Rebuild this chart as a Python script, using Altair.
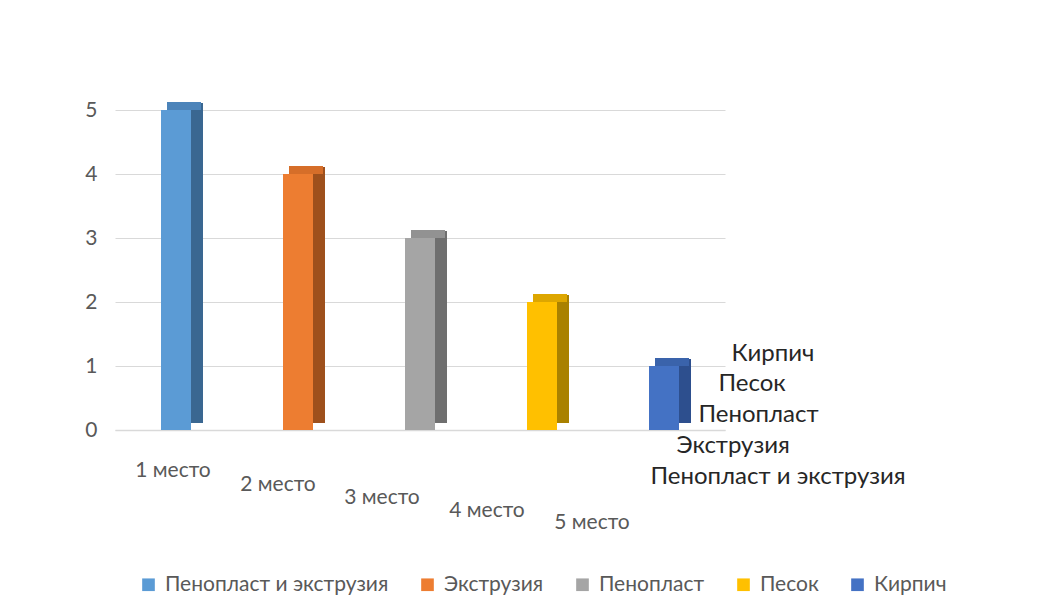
import altair as alt
import pandas as pd

# Ranking of insulation materials by place
places = ["1 место", "2 место", "3 место", "4 место", "5 место"]
materials = ["Пенопласт и экструзия", "Экструзия", "Пенопласт", "Песок", "Кирпич"]
scores = [5, 4, 3, 2, 1]

# Face colours of each column: front, top and side
front_palette = ["#5B9BD5", "#ED7D31", "#A5A5A5", "#FFC000", "#4472C4"]
top_palette = ["#4C84BA", "#D66E29", "#929292", "#DDA600", "#3A63AB"]
side_palette = ["#3A6791", "#9E501C", "#6F6F6F", "#A98100", "#2D4F8E"]

df = pd.DataFrame({"place": places, "material": materials, "score": scores})

FONT = "Lato"
TEXT = "#595959"


def stepped(field_values, steps, default):
    """Per-label axis property that changes label by label."""
    return {
        "condition": [
            {"test": f"datum.value == '{v}'", "value": s}
            for v, s in zip(field_values, steps)
        ],
        "value": default,
    }


# Category labels recede along the floor edge
x_label_padding = stepped(places[:4], [29, 43, 56, 69], 81)
x_label_offset = stepped(places[:4], [-3, -20, -38, -55], -72)

x_enc = alt.X(
    "place:N",
    sort=places,
    title=None,
    scale=alt.Scale(paddingInner=0.0, paddingOuter=0.0),
    axis=alt.Axis(
        labelAngle=0, labelFontSize=21, labelColor=TEXT, labelFont=FONT,
        labelPadding=x_label_padding, labelOffset=x_label_offset,
        ticks=False, domainColor="#D9D9D9", domainWidth=1.5,
    ),
)
y_enc = alt.Y(
    "score:Q",
    title=None,
    scale=alt.Scale(domain=[0, 5]),
    axis=alt.Axis(
        values=[0, 1, 2, 3, 4, 5], labelFontSize=21, labelColor=TEXT, labelFont=FONT,
        labelPadding=18, ticks=False, domain=False, gridColor="#D9D9D9", gridWidth=1.2,
    ),
)

base = alt.Chart(df).encode(x=x_enc, y=y_enc)

side = base.mark_bar(size=12, xOffset=21, yOffset=-7).encode(
    color=alt.Color("material:N", scale=alt.Scale(domain=materials, range=side_palette), legend=None)
)

top = base.mark_tick(size=34, thickness=8, xOffset=8, yOffset=-4, opacity=1).encode(
    color=alt.Color("material:N", scale=alt.Scale(domain=materials, range=top_palette), legend=None)
)

front = base.mark_bar(size=30).encode(
    color=alt.Color(
        "material:N",
        scale=alt.Scale(domain=materials, range=front_palette),
        legend=alt.Legend(
            title=None, orient="none", direction="horizontal", columns=5,
            legendX=23, legendY=464, symbolType="square", symbolSize=160,
            symbolStrokeWidth=0, labelFontSize=21, labelColor=TEXT, labelFont=FONT,
            columnPadding=28, labelOffset=6, labelLimit=400,
        ),
    )
)

columns = alt.layer(side, top, front).resolve_scale(color="independent")

# Depth axis listing the series, front row at the bottom, stepping outwards
depth_padding = stepped(materials[::-1][:4], [6, -7, -27, -49], -75)

depth = alt.Chart(df).mark_point(opacity=0).encode(
    x=alt.value(0),
    y=alt.Y(
        "material:N",
        title=None,
        scale=alt.Scale(type="point", domain=materials, range=[366, 243], padding=0),
        axis=alt.Axis(
            orient="right", domain=False, ticks=False, grid=False,
            labelFontSize=24, labelColor="#262626", labelFont=FONT,
            labelPadding=depth_padding, labelAlign="left", labelLimit=400,
        ),
    ),
)

chart = (
    alt.layer(columns, depth)
    .resolve_scale(y="independent")
    .properties(
        width=610, height=320,
        autosize=alt.AutoSizeParams(type="none"),
        padding={"left": 115, "top": 110, "right": 333, "bottom": 186},
        background="white",
    )
    .configure_view(stroke=None)
)

chart.save("out.html", embed_options={"renderer": "svg", "actions": False})
